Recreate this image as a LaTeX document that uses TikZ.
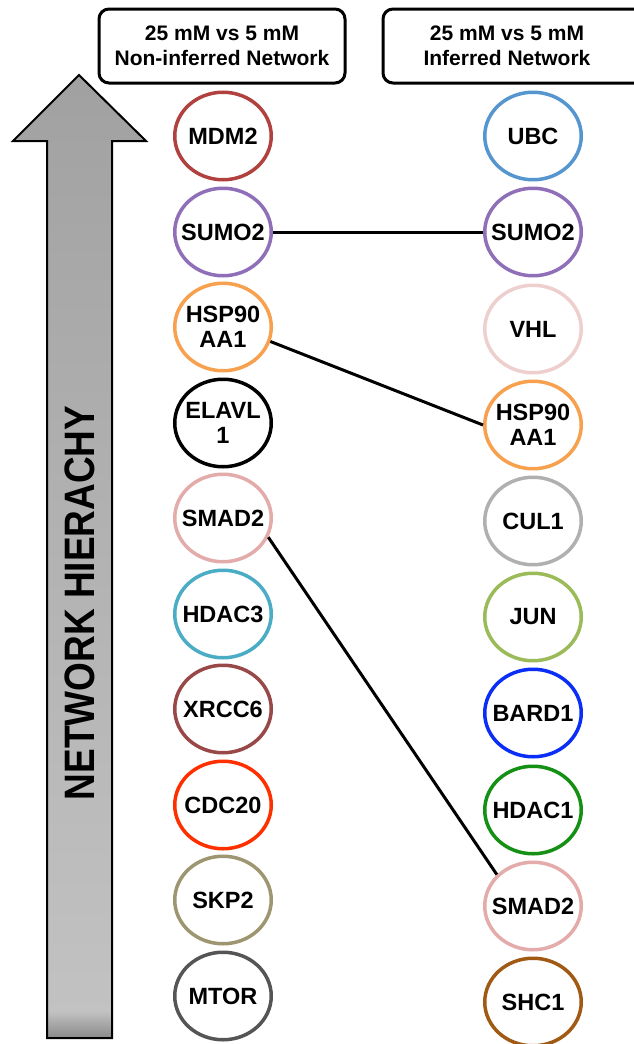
\documentclass[tikz,border=0pt]{standalone}
\usepackage{fontspec}
\setmainfont{Liberation Sans}
\usetikzlibrary{shapes.geometric, positioning}

\definecolor{mdmred}{HTML}{B0413E}
\definecolor{sumopurple}{HTML}{8E6FB8}
\definecolor{hsporange}{HTML}{F7A04E}
\definecolor{smadpink}{HTML}{E3ABA9}
\definecolor{hdaccyan}{HTML}{4BACC6}
\definecolor{xrccred}{HTML}{984846}
\definecolor{cdcred}{HTML}{FF3000}
\definecolor{skpkhaki}{HTML}{9D9670}
\definecolor{mtorgray}{HTML}{555555}
\definecolor{ubcblue}{HTML}{5596CF}
\definecolor{vhlpink}{HTML}{EDCFCE}
\definecolor{culgray}{HTML}{B0B0B0}
\definecolor{jungreen}{HTML}{9BBB59}
\definecolor{bardblue}{HTML}{0A2EF5}
\definecolor{hdacgreen}{HTML}{149014}
\definecolor{shcbrown}{HTML}{A05A14}

\pgfdeclareverticalshading{hierarchyshade}{100bp}{color(0bp)=(black!46); color(25bp)=(black!46); color(26.4bp)=(black!24); color(50bp)=(black!30); color(72bp)=(black!36); color(75bp)=(black!37); color(100bp)=(black!37)}

\tikzset{
    gene/.style={ellipse, draw=#1, line width=3.5pt, fill=white,
        minimum width=96.5pt, minimum height=87.5pt, inner sep=-15pt,
        align=center, font=\bfseries\fontsize{23.5}{25.5}\selectfont},
    header/.style={draw, line width=3pt, rounded corners=10pt, fill=white},
    headtext/.style={align=center, font=\bfseries\fontsize{21}{25}\selectfont},
    link/.style={line width=3pt, black}
}

\begin{document}
\begin{tikzpicture}[x=1pt, y=-1pt]
        \useasboundingbox (0,0) rectangle (633,1044);

        % Hierarchy arrow
        \draw[line width=2pt, shading=hierarchyshade]
            (79,75) -- (146,141) -- (112,141) -- (112,1038) -- (47,1038) -- (47,141) -- (13,141) -- cycle;
        \node[rotate=90, font=\bfseries\fontsize{37}{40}\selectfont] (H) at (80,603)
            {\scalebox{1}[1.15]{NETWORK HIERACHY}};

        % Headers
        \draw[header] (99,9) rectangle (345,83);
        \draw[header] (383,9) rectangle (660,83);
        \node[headtext] (HL) at (222,46) {25 mM vs 5 mM\\Non-inferred Network};
        \node[headtext] (HR) at (507,46) {25 mM vs 5 mM\\Inferred Network};

        % Non-inferred network
        \node[gene=mdmred] (L1) at (223,136) {MDM2};
        \node[gene=sumopurple] (L2) at (223,232) {SUMO2};
        \node[gene=hsporange] (L3) at (223,327) {HSP90\\AA1};
        \node[gene=black] (L4) at (223,423) {ELAVL\\1};
        \node[gene=smadpink] (L5) at (223,518) {SMAD2};
        \node[gene=hdaccyan] (L6) at (223,614) {HDAC3};
        \node[gene=xrccred] (L7) at (223,709) {XRCC6};
        \node[gene=cdcred] (L8) at (223,805) {CDC20};
        \node[gene=skpkhaki] (L9) at (223,900) {SKP2};
        \node[gene=mtorgray] (L10) at (223,996) {MTOR};

        % Inferred network
        \node[gene=ubcblue] (R1) at (533,136) {UBC};
        \node[gene=sumopurple] (R2) at (533,232) {SUMO2};
        \node[gene=vhlpink] (R3) at (533,329) {VHL};
        \node[gene=hsporange] (R4) at (533,425) {HSP90\\AA1};
        \node[gene=culgray] (R5) at (533,521) {CUL1};
        \node[gene=jungreen] (R6) at (533,617) {JUN};
        \node[gene=bardblue] (R7) at (533,713) {BARD1};
        \node[gene=hdacgreen] (R8) at (533,810) {HDAC1};
        \node[gene=smadpink] (R9) at (533,906) {SMAD2};
        \node[gene=shcbrown] (R10) at (533,1002) {SHC1};

        % Shared genes
        \draw[link] (L2.east) -- (R2.west);
        \draw[link] (L3.-17) -- (R4.west);
        \draw[link] (L5.-23) -- (R9.139);

\end{tikzpicture}
\end{document}
